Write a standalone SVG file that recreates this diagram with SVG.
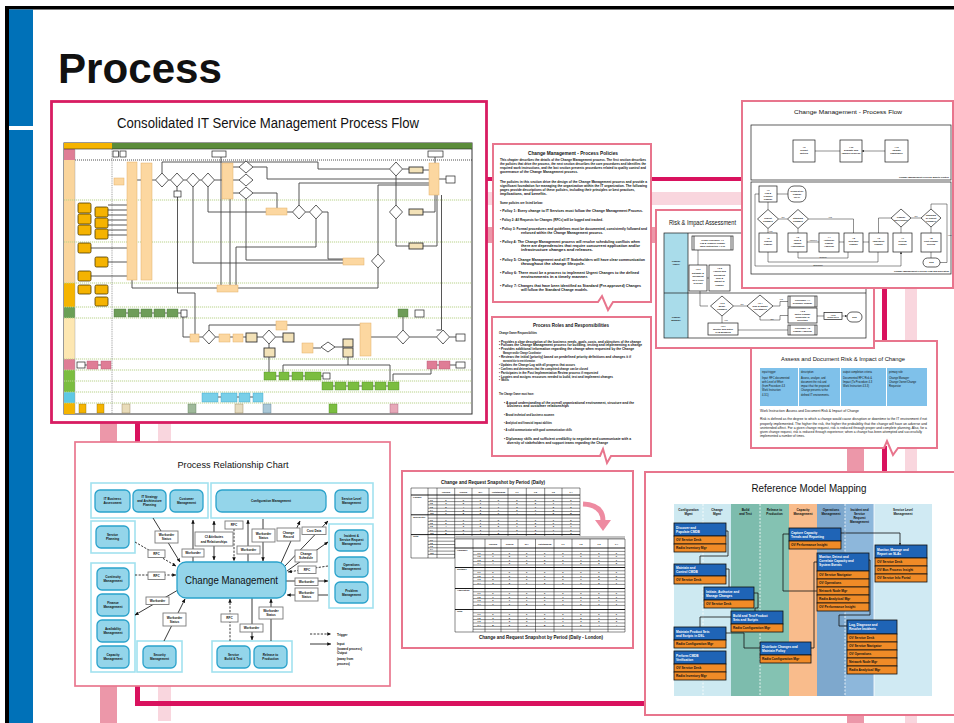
<svg xmlns="http://www.w3.org/2000/svg" width="954" height="723" viewBox="0 0 954 723">
<style>
text{font-family:"Liberation Sans",Arial,Helvetica,sans-serif;fill:#111}
.pb{fill:#fff;stroke:#e8758d;stroke-width:2}
.mid{text-anchor:middle}
.end{text-anchor:end}
.b{font-weight:bold}
.t2{font-size:2.3px}
.t25{font-size:2.6px}
.t3{font-size:3.1px}
.body{font-size:3.6px;font-weight:bold;fill:#000}
.k{fill:none;stroke:#1a1a1a;stroke-width:.7}
.kb{fill:#fff;stroke:#1a1a1a;stroke-width:.7}
.cl{fill:none;stroke:#444;stroke-width:.9}
.lo{fill:#fcd7a0;stroke:#e3b06a;stroke-width:.5}
.yb{fill:#f5b301;stroke:#4d3a00;stroke-width:.8}
.dm{fill:#fff;stroke:#333;stroke-width:.8}
.wb{fill:#fff;stroke:#222;stroke-width:.7}
.db{fill:#f3e2b8;stroke:#333;stroke-width:.9}
.gb{fill:#6e9d58;stroke:#4b7a3a;stroke-width:.4}
.lg{fill:#7bbd40;stroke:#4e8a22;stroke-width:.4}
.pk{fill:#df7d96;stroke:#b25670;stroke-width:.4}
.cy{fill:#79cfe9;stroke:#3aa3c8;stroke-width:.4}
.sep{stroke:#b9d38c;stroke-width:1;stroke-dasharray:1.2 .8}
.grp{fill:#fff;stroke:#a2e1ef;stroke-width:1.6}
.nd{fill:#94d5ea;stroke:#2aa2cb;stroke-width:1.3}
.lb{fill:#fff;stroke:#7a7a7a;stroke-width:.9}
.ar{fill:none;stroke:#222;stroke-width:.9;marker-end:url(#a)}
.da{fill:none;stroke:#222;stroke-width:.9;stroke-dasharray:2.2 1.4;marker-end:url(#a)}
.fa{fill:none;stroke:#222;stroke-width:.5;marker-end:url(#s)}
.hd{fill:#1f64b6;stroke:#111;stroke-width:.8}
.it{fill:#f08b27;stroke:#111;stroke-width:.8}
.hw{font-size:3.2px;font-weight:bold;fill:#fff}
.ik{font-size:3.2px;font-weight:bold;fill:#111}
.grid{fill:none;stroke:#111;stroke-width:.5}
.num{font-size:2.3px;font-weight:bold}
</style>
<defs>
<marker id="a" viewBox="0 0 8 8" refX="7.5" refY="4" markerUnits="userSpaceOnUse" markerWidth="4" markerHeight="4" orient="auto-start-reverse"><path d="M0,.5L8,4L0,7.5z" fill="#111"/></marker>
<marker id="s" viewBox="0 0 8 8" refX="7.5" refY="4" markerUnits="userSpaceOnUse" markerWidth="2.2" markerHeight="2.2" orient="auto"><path d="M0,.5L8,4L0,7.5z" fill="#111"/></marker>
</defs>

<rect width="954" height="723" fill="#fff"/>

<!-- slide frame and side bar -->
<g id="frame">
<rect x="5" y="6" width="949" height="3.5" fill="#000"/>
<rect x="5" y="6" width="4" height="717" fill="#000"/>
<rect x="9" y="9.5" width="24" height="713.5" fill="#0071b8"/>
<rect x="9" y="126" width="24" height="4" fill="#fff"/>
<text x="58" y="83" font-size="42" class="b" fill="#000" textLength="164" lengthAdjust="spacingAndGlyphs">Process</text>
</g>

<!-- decorative stripes running behind the panels -->
<g id="stripes">
<rect x="487" y="177" width="257" height="4" fill="#d9125e"/>
<rect x="487" y="192" width="257" height="13" fill="#f9d6de"/>
<rect x="487" y="227" width="170" height="16" fill="#ec97a9"/>
<rect x="882" y="286" width="5" height="56" fill="#d9125e"/>
<rect x="905" y="286" width="12" height="56" fill="#f9d6de"/>
<rect x="847" y="446" width="17" height="27" fill="#ec97a9"/>
<rect x="882" y="446" width="5" height="27" fill="#d9125e"/>
<rect x="905" y="446" width="12" height="27" fill="#f9d6de"/>
<rect x="847" y="714" width="17" height="9" fill="#ec97a9"/>
<rect x="905" y="714" width="12" height="9" fill="#f9d6de"/>
<rect x="100" y="421" width="17" height="22" fill="#ec97a9"/>
<rect x="135" y="421" width="5" height="22" fill="#d9125e"/>
<rect x="158" y="421" width="13" height="22" fill="#f9d6de"/>
<rect x="100" y="685" width="17" height="38" fill="#ec97a9"/>
<rect x="158" y="685" width="13" height="36" fill="#f9d6de"/>
<path d="M137.5,685V703.5H646" fill="none" stroke="#d9125e" stroke-width="5"/>
</g>

<!-- consolidated process flow panel -->
<g id="consolidated">
<rect x="51.5" y="101.5" width="435" height="321" fill="#fff" stroke="#d81c62" stroke-width="2.8"/>
<text x="268" y="128.3" font-size="14" class="mid" fill="#222" textLength="302" lengthAdjust="spacingAndGlyphs">Consolidated IT Service Management Process Flow</text>
<rect x="64" y="143" width="408" height="271" fill="#fff" stroke="#333" stroke-width="1"/>
<rect x="64" y="143" width="48" height="6" fill="#f5b400"/>
<rect x="112" y="143" width="360" height="6" fill="#5b8c3a"/>
<rect x="64" y="149" width="11" height="11" fill="#df7d96"/>
<rect x="64" y="160" width="11" height="123" fill="#fad59c"/>
<rect x="64" y="283" width="11" height="24" fill="#f5b400"/>
<rect x="64" y="307" width="11" height="11" fill="#6a9f56"/>
<rect x="64" y="318" width="11" height="41" fill="#fde7b2"/>
<rect x="64" y="359" width="11" height="11" fill="#df7d96"/>
<rect x="64" y="370" width="11" height="22" fill="#7bbd40"/>
<rect x="64" y="392" width="11" height="11" fill="#5ec8e5"/>
<rect x="64" y="403" width="11" height="11" fill="#f5b400"/>
<path d="M64,200H472M64,242H472M64,283H472M64,307H472M64,318H472M64,359H472M64,370H472M64,381H472M64,392H472M64,403H472" class="sep"/>
<path d="M75,160H472" stroke="#222" stroke-width=".8" stroke-dasharray="1 1"/>
<path d="M64,149H472" stroke="#222" stroke-width=".6"/>
<path d="M112,149V414" stroke="#888" stroke-width=".8" stroke-dasharray="1 .8"/>
<path d="M75,149V414" stroke="#999" stroke-width=".4"/>
<path d="M108,205H127M108,210H127M108,215H127M108,220H127M108,225H127M108,230H127M108,235H127M91,248H127M108,262H127M91,276H127M132,280V288H217M238,288H378V268M137,180H141M152,180H155.5M168.5,180H170.5M183.5,180H186.5M199.5,180H201.5M214.5,180H222M162,173V162H318V169H389.5M177,187V191M177.5,197V293H195V334M193,187V263H343M208,187V212H266M221,157V285M233,180H239M233,167H239M233,193H239M246,199V260H343M230,199V285M236,285V247H316V219M253,167H267V179H429M253,193H277V208M287,212H292.5M305.5,212H309.5M299,205V183H429M322.5,212H328V259H343M378,254V185H429M402.5,169H409M423,170H429M396,176V205M396,219V246H409M423,212H435V195M423,246H437V195M439,179H446M435,163V157M441.5,195V330H436.5M126,313H181M183,317V337H190M199,337H202.5M215.5,337H219M230,337H233M243,337H246M257,337H262.5M275.5,337H283M209,330V325H360M269,344V348M269,357V373M371,337H396.5M409.5,337H436.5M449.5,337H456M403,330V317M313,348H321M335,347H343M348,357V365M283,373V365H390V381M431,369V374H393V381M85,365H87M98,365H101M437,365H439M450,365H456M276,376H279M289,376H292M303,376H305M321,376H323M333,386H335M346,386H348M359,386H362M373,386H375M386,386H388M218,397H221M237,397H239M250,397H253" class="cl"/>
<rect x="127" y="162" width="10" height="118" class="lo"/>
<rect x="141" y="163" width="11" height="117" class="lo"/>
<rect x="222" y="163" width="11" height="36" class="lo"/>
<rect x="429" y="163" width="10" height="32" class="lo"/>
<rect x="360" y="323" width="11" height="33" class="lo"/>
<rect x="114" y="178" width="10" height="7" class="lo"/>
<rect x="266" y="208" width="21" height="7" class="lo"/>
<rect x="343" y="258" width="21" height="7" class="lo"/>
<rect x="217" y="285" width="21" height="7" class="lo"/>
<rect x="409" y="167" width="14" height="6" class="db"/>
<rect x="409" y="209" width="14" height="6" class="db"/>
<rect x="409" y="243" width="14" height="6" class="db"/>
<rect x="190" y="334" width="9" height="8" class="lo"/>
<rect x="219" y="334" width="11" height="8" class="lo"/>
<rect x="233" y="334" width="10" height="8" class="lo"/>
<rect x="276" y="321" width="11" height="9" class="lo"/>
<rect x="302" y="343" width="11" height="10" class="lo"/>
<rect x="246" y="333" width="11" height="9" class="db"/>
<rect x="283" y="333" width="11" height="9" class="db"/>
<rect x="264" y="348" width="11" height="9" class="db"/>
<rect x="343" y="339" width="10" height="8" class="db"/>
<rect x="343" y="348" width="10" height="9" class="db"/>
<rect x="78" y="203" width="13" height="10" rx="1.5" class="yb"/>
<rect x="78" y="214" width="13" height="10" rx="1.5" class="yb"/>
<rect x="78" y="225" width="13" height="10" rx="1.5" class="yb"/>
<rect x="95" y="207" width="13" height="10" rx="1.5" class="yb"/>
<rect x="95" y="218" width="13" height="10" rx="1.5" class="yb"/>
<rect x="95" y="229" width="13" height="10" rx="1.5" class="yb"/>
<rect x="78" y="243" width="13" height="10" rx="1.5" class="yb"/>
<rect x="95" y="257" width="13" height="10" rx="1.5" class="yb"/>
<rect x="78" y="271" width="13" height="10" rx="1.5" class="yb"/>
<rect x="78" y="285" width="13" height="9" rx="1.5" class="yb"/>
<rect x="95" y="285" width="13" height="9" rx="1.5" class="yb"/>
<rect x="95" y="297" width="13" height="9" rx="1.5" class="yb"/>
<polygon points="162,173 168.5,180 162,187 155.5,180" class="dm"/>
<polygon points="177,173 183.5,180 177,187 170.5,180" class="dm"/>
<polygon points="193,173 199.5,180 193,187 186.5,180" class="dm"/>
<polygon points="208,173 214.5,180 208,187 201.5,180" class="dm"/>
<polygon points="246,161 253,167 246,173 239,167" class="dm"/>
<polygon points="246,174 253,180 246,186 239,180" class="dm"/>
<polygon points="246,187 253,193 246,199 239,193" class="dm"/>
<polygon points="396,162 402.5,169 396,176 389.5,169" class="dm"/>
<polygon points="299,205 305.5,212 299,219 292.5,212" class="dm"/>
<polygon points="316,205 322.5,212 316,219 309.5,212" class="dm"/>
<polygon points="396,205 402.5,212 396,219 389.5,212" class="dm"/>
<polygon points="378,254 384.5,261 378,268 371.5,261" class="dm"/>
<polygon points="209,330 215.5,337 209,344 202.5,337" class="dm"/>
<polygon points="269,330 275.5,337 269,344 262.5,337" class="dm"/>
<polygon points="328,342 335,347 328,352 321,347" class="dm"/>
<polygon points="403,330 409.5,337 403,344 396.5,337" class="dm"/>
<polygon points="443,330 449.5,337 443,344 436.5,337" class="dm"/>
<rect x="113" y="151" width="5.5" height="6" class="wb"/>
<rect x="120" y="151" width="6" height="6" class="wb"/>
<rect x="212" y="151" width="14" height="6" class="wb"/>
<rect x="428" y="151" width="15" height="6" class="wb"/>
<rect x="174" y="191" width="7" height="6" class="wb"/>
<rect x="181" y="310" width="6" height="7" class="wb"/>
<rect x="415" y="310" width="9" height="7" class="wb"/>
<rect x="446" y="176" width="9" height="7" class="wb"/>
<rect x="456" y="334" width="9" height="7" class="wb"/>
<rect x="456" y="362" width="9" height="6" class="wb"/>
<rect x="77" y="362" width="8" height="6" class="wb"/>
<rect x="323" y="373" width="7" height="6" class="wb"/>
<rect x="114" y="309" width="12" height="8" class="gb"/>
<rect x="128" y="309" width="11" height="8" class="gb"/>
<rect x="141" y="309" width="11" height="8" class="gb"/>
<rect x="154" y="309" width="11" height="8" class="gb"/>
<rect x="167" y="309" width="11" height="8" class="gb"/>
<rect x="398" y="309" width="10" height="8" class="gb"/>
<rect x="87" y="361" width="11" height="8" class="pk"/>
<rect x="101" y="361" width="10" height="8" class="pk"/>
<rect x="427" y="361" width="10" height="8" class="pk"/>
<rect x="439" y="361" width="11" height="8" class="pk"/>
<rect x="264" y="372" width="12" height="8" class="lg"/>
<rect x="279" y="372" width="10" height="8" class="lg"/>
<rect x="292" y="372" width="11" height="8" class="lg"/>
<rect x="305" y="372" width="16" height="8" class="lg"/>
<rect x="322" y="382" width="11" height="8" class="lg"/>
<rect x="335" y="382" width="11" height="8" class="lg"/>
<rect x="348" y="382" width="11" height="8" class="lg"/>
<rect x="362" y="382" width="11" height="8" class="lg"/>
<rect x="375" y="382" width="11" height="8" class="lg"/>
<rect x="388" y="382" width="11" height="8" class="lg"/>
<rect x="202" y="393" width="16" height="9" class="cy"/>
<rect x="221" y="393" width="16" height="9" class="cy"/>
<rect x="239" y="393" width="11" height="9" class="cy"/>
<rect x="253" y="393" width="10" height="9" class="cy"/>
<rect x="79" y="404" width="7" height="9" fill="#f5b400" stroke="#8a6a00" stroke-width=".4"/>
<rect x="97" y="404" width="7" height="9" fill="#f5b400" stroke="#8a6a00" stroke-width=".4"/>
<rect x="122" y="404" width="8" height="9" fill="#e9dcb9" stroke="#8a7a50" stroke-width=".4"/>
<rect x="188" y="404" width="8" height="9" fill="#9fb99a" stroke="#5b7a56" stroke-width=".4"/>
<rect x="235" y="404" width="8" height="9" fill="#e6dcc0" stroke="#8a7a50" stroke-width=".4"/>
<rect x="263" y="404" width="8" height="9" fill="#a9c8d8" stroke="#5b7a8a" stroke-width=".4"/>
<rect x="329" y="404" width="8" height="9" fill="#7bbd40" stroke="#4e8a22" stroke-width=".4"/>
<rect x="390" y="404" width="8" height="9" fill="#e7a8b8" stroke="#a0607a" stroke-width=".4"/>
</g>

<!-- policies callout -->
<g id="policies">
<path d="M493,144H651V302H613L608,310L602,296L598,302H493Z" class="pb"/>
<text x="573" y="154.7" font-size="5.5" class="mid b" textLength="90" lengthAdjust="spacingAndGlyphs">Change Management - Process Policies</text>
<g class="body">
<text x="500" y="161" textLength="146" lengthAdjust="spacingAndGlyphs">This chapter describes the details of the Change Management process. The first section describes</text>
<text x="500" y="165" textLength="146" lengthAdjust="spacingAndGlyphs">the policies that drive the process, the next section describes the core procedures and identifies the</text>
<text x="500" y="169" textLength="146" lengthAdjust="spacingAndGlyphs">required work instructions, and the last section presents procedures related to quality control and</text>
<text x="500" y="173" textLength="78" lengthAdjust="spacingAndGlyphs">governance of the Change Management process.</text>
<text x="500" y="182.5" textLength="147" lengthAdjust="spacingAndGlyphs">The policies in this section drive the design of the Change Management process and provide a</text>
<text x="500" y="186.5" textLength="147" lengthAdjust="spacingAndGlyphs">significant foundation for managing the organization within the IT organization. The following</text>
<text x="500" y="190.5" textLength="135" lengthAdjust="spacingAndGlyphs">pages provide descriptions of these policies, including their principles or best practices,</text>
<text x="500" y="194.5" textLength="47" lengthAdjust="spacingAndGlyphs">implications, and benefits.</text>
<text x="500" y="204.3" textLength="43" lengthAdjust="spacingAndGlyphs">Some policies are listed below:</text>
<text x="500" y="212.3" textLength="143" lengthAdjust="spacingAndGlyphs">• Policy 1: Every change to IT Services must follow the Change Management Process.</text>
<text x="500" y="221.2" textLength="103" lengthAdjust="spacingAndGlyphs">• Policy 2: All Requests for Changes (RFCs) will be logged and tracked.</text>
<text x="500" y="229.8" textLength="147" lengthAdjust="spacingAndGlyphs">• Policy 3: Formal procedures and guidelines must be documented, consistently followed and</text>
<text x="521" y="233.8" textLength="82" lengthAdjust="spacingAndGlyphs">enforced within the Change Management process.</text>
<text x="500" y="243.2" textLength="140" lengthAdjust="spacingAndGlyphs">• Policy 4: The Change Management process will resolve scheduling conflicts when</text>
<text x="521" y="247.2" textLength="119" lengthAdjust="spacingAndGlyphs">there are dependencies that require concurrent application and/or</text>
<text x="521" y="251.2" textLength="72" lengthAdjust="spacingAndGlyphs">infrastructure changes and releases.</text>
<text x="500" y="261.2" textLength="145" lengthAdjust="spacingAndGlyphs">• Policy 5: Change Management and all IT Stakeholders will have clear communication</text>
<text x="521" y="265.4" textLength="64" lengthAdjust="spacingAndGlyphs">throughout the change lifecycle.</text>
<text x="500" y="273.8" textLength="139" lengthAdjust="spacingAndGlyphs">• Policy 6: There must be a process to implement Urgent Changes to the defined</text>
<text x="521" y="277.8" textLength="67" lengthAdjust="spacingAndGlyphs">environments in a timely manner.</text>
<text x="500" y="287.2" textLength="141" lengthAdjust="spacingAndGlyphs">• Policy 7: Changes that have been identified as Standard (Pre-approved) Changes</text>
<text x="521" y="291.2" textLength="67" lengthAdjust="spacingAndGlyphs">will follow the Standard Change models.</text>
</g>
</g>

<!-- roles callout -->
<g id="roles">
<path d="M492,317H651V456H611L607,463L603,449L600,456H492Z" class="pb"/>
<text x="571" y="327.3" font-size="5.5" class="mid b" textLength="76" lengthAdjust="spacingAndGlyphs">Process Roles and Responsibilities</text>
<g class="body" font-size="3.3">
<text x="499" y="334" textLength="38" lengthAdjust="spacingAndGlyphs">Change Owner Responsibilities</text>
<text x="499" y="342.5" textLength="142" lengthAdjust="spacingAndGlyphs">• Provides a clear description of the business needs, goals, costs, and objectives of the change</text>
<text x="499" y="346.2" textLength="143" lengthAdjust="spacingAndGlyphs">• Follows the Change Management process for building, testing and implementing a change</text>
<text x="499" y="349.9" textLength="135" lengthAdjust="spacingAndGlyphs">• Provides additional information regarding the change when requested by the Change</text>
<text x="503" y="354" textLength="38" lengthAdjust="spacingAndGlyphs">Manager and/or Change Coordinator</text>
<text x="499" y="358" textLength="132" lengthAdjust="spacingAndGlyphs">• Reviews the initial (priority) based on predefined priority definitions and changes it if</text>
<text x="503" y="361.7" textLength="32" lengthAdjust="spacingAndGlyphs">warranted due to new information</text>
<text x="499" y="366" textLength="76" lengthAdjust="spacingAndGlyphs">• Updates the Change Log with all progress that occurs</text>
<text x="499" y="369.7" textLength="89" lengthAdjust="spacingAndGlyphs">• Confirms and determines that the completed change can be closed</text>
<text x="499" y="373.7" textLength="99" lengthAdjust="spacingAndGlyphs">• Participates in the Post Implementation Review process if requested</text>
<text x="499" y="377.5" textLength="114" lengthAdjust="spacingAndGlyphs">• Locates and assigns resources needed to build, test and implement changes</text>
<text x="499" y="381.3" textLength="10" lengthAdjust="spacingAndGlyphs">• Skills</text>
<text x="499" y="395.3" textLength="35" lengthAdjust="spacingAndGlyphs">The Change Owner must have:</text>
<text x="504" y="403.6" textLength="130" lengthAdjust="spacingAndGlyphs">• A good understanding of the overall organizational environment, structure and the</text>
<text x="507" y="407.2" textLength="62" lengthAdjust="spacingAndGlyphs">business and customer relationships</text>
<text x="504" y="416" textLength="50" lengthAdjust="spacingAndGlyphs">• Broad technical and business acumen</text>
<text x="504" y="423.6" textLength="48" lengthAdjust="spacingAndGlyphs">• Analytical and financial impact abilities</text>
<text x="504" y="431.3" textLength="68" lengthAdjust="spacingAndGlyphs">• A solid communicator with good communication skills</text>
<text x="504" y="440.3" textLength="127" lengthAdjust="spacingAndGlyphs">• Diplomacy skills and sufficient credibility to negotiate and communicate with a</text>
<text x="507" y="444.3" textLength="101" lengthAdjust="spacingAndGlyphs">diversity of stakeholders and support teams regarding the Change</text>
</g>
</g>

<!-- assess and document callout -->
<g id="assess">
<path d="M751,341H937V448H898L893,455L887,441L884,448H751Z" class="pb"/>
<text x="843" y="360.7" font-size="6" class="mid" fill="#222" textLength="124" lengthAdjust="spacingAndGlyphs">Assess and Document Risk &amp; Impact of Change</text>
<rect x="760" y="368" width="38" height="38" fill="#7fc1ea"/>
<rect x="799" y="368" width="41" height="38" fill="#7fc1ea"/>
<rect x="841" y="368" width="45" height="38" fill="#7fc1ea"/>
<rect x="887" y="368" width="40" height="38" fill="#7fc1ea"/>
<g class="t25">
<text x="762" y="373">input trigger</text><text x="801" y="373">description</text><text x="843" y="373">output completion criteria</text><text x="889" y="373">primary role</text>
<text x="762" y="378.5">Input: RFC documented</text><text x="762" y="382.8">with Level of Effort</text><text x="762" y="387.1">(from Procedure 4.3</text><text x="762" y="391.4">Work Instruction</text><text x="762" y="395.7">4.3.1)</text>
<text x="801" y="378.5">Assess, analyze, and</text><text x="801" y="382.8">document the risk and</text><text x="801" y="387.1">impact that the proposed</text><text x="801" y="391.4">Change presents to the</text><text x="801" y="395.7">defined IT environments.</text>
<text x="843" y="378.5">Documented RFC Risk &amp;</text><text x="843" y="382.8">Impact (To Procedure 4.3</text><text x="843" y="387.1">Work Instruction 4.3.3)</text>
<text x="889" y="378.5">Change Manager</text><text x="889" y="382.8">Change Owner/Change</text><text x="889" y="387.1">Requestor</text>
</g>
<g class="t25">
<text x="760" y="412" textLength="99" lengthAdjust="spacingAndGlyphs">Work Instruction: Assess and Document Risk &amp; Impact of Change</text>
<text x="760" y="420.2" textLength="167" lengthAdjust="spacingAndGlyphs">Risk is defined as the degree to which a change would cause disruption or downtime to the IT environment if not</text>
<text x="760" y="424.5" textLength="167" lengthAdjust="spacingAndGlyphs">properly implemented. The higher the risk, the higher the probability that the change will have an adverse and</text>
<text x="760" y="428.8" textLength="167" lengthAdjust="spacingAndGlyphs">unintended affect. For a given change request, risk is reduced through proper and complete planning. Also, for a</text>
<text x="760" y="433.1" textLength="162" lengthAdjust="spacingAndGlyphs">given change request, risk is reduced through experience; when a change has been attempted and successfully</text>
<text x="760" y="437.4" textLength="45" lengthAdjust="spacingAndGlyphs">implemented a number of times.</text>
</g>
</g>

<!-- risk and impact assessment -->
<g id="risk">
<rect x="656" y="210" width="218" height="138" class="pb"/>
<text x="669" y="225" font-size="6.5" fill="#222" textLength="67" lengthAdjust="spacingAndGlyphs">Risk &amp; Impact Assessment</text>
<rect x="664" y="233" width="24" height="105" fill="#a9dcea"/>
<rect x="664" y="233" width="202" height="105" class="k" stroke-width=".9"/>
<path d="M664,293H866M688,233V338" class="k"/>
<text x="676" y="262" class="t2 mid b">Change</text><text x="676" y="265" class="t2 mid b">Owner</text>
<text x="676" y="318" class="t2 mid b">Change</text><text x="676" y="321" class="t2 mid b">Manager</text>
<path d="M698,250V265M707,278H709M700,291V306H708M733.5,306H747M773,306H780V301.5H788M760,317V320H780V315.5H788M722,316V323M738,330H788M817,316H824M842,316H847" class="fa"/>
<rect x="692" y="236" width="41" height="14" class="kb"/>
<path d="M694,236V250M731,236V250" class="k"/>
<text x="712.5" y="240.5" class="t2 mid b">Cross Procedure 4.1</text>
<text x="712.5" y="243.5" class="t2 mid b">Log &amp; Classify Change</text>
<text x="712.5" y="246.5" class="t2 mid b">Work Instruction 4.1.10</text>
<rect x="689" y="265" width="18" height="26" class="kb"/>
<g class="t2 mid b"><text x="698" y="270">4.3.1</text><text x="698" y="273.5">Estimate &amp;</text><text x="698" y="277">Document</text><text x="698" y="280.5">RFC Level</text><text x="698" y="284">of Effort</text></g>
<rect x="709" y="265" width="21" height="26" class="kb"/>
<g class="t2 mid b"><text x="719.5" y="269">4.3.2</text><text x="719.5" y="272.3">Assess and</text><text x="719.5" y="275.6">Document</text><text x="719.5" y="278.9">Risk &amp;</text><text x="719.5" y="282.2">Impact of</text><text x="719.5" y="285.5">Change</text></g>
<polygon points="722,296 733.5,306 722,316 710.5,306" class="kb"/>
<g class="t2 mid b"><text x="722" y="304">4.3.3</text><text x="722" y="307">Minor</text><text x="722" y="310">Change?</text></g>
<polygon points="760,295 773,306 760,317 747,306" class="kb"/>
<g class="t2 mid b"><text x="760" y="304">4.3.4</text><text x="760" y="307">Risk &amp; Impact</text><text x="760" y="310">Acceptable?</text></g>
<text x="742" y="305" class="t2 mid">No</text><text x="781" y="300" class="t2 mid">Yes</text><text x="772" y="319.5" class="t2 mid">No</text><text x="724" y="321" class="t2">Yes</text>
<rect x="788" y="296" width="29" height="11" class="kb"/>
<path d="M790,296V307M815,296V307" class="k"/>
<g class="t2 mid b"><text x="802.5" y="300.8">Procedure 4.4</text><text x="802.5" y="303.8">Schedule Change</text></g>
<rect x="788" y="308" width="29" height="15" class="kb"/>
<g class="t2 mid b"><text x="802.5" y="311.5">4.3.5</text><text x="802.5" y="314.5">Notify Change</text><text x="802.5" y="317.5">Requestor of</text><text x="802.5" y="320.5">Rejection</text></g>
<rect x="824" y="312.5" width="18" height="7" class="kb"/>
<g class="t2 mid b"><text x="833" y="315.5">4.3.6</text><text x="833" y="318.3">Close RFC</text></g>
<rect x="847" y="312" width="15" height="10" rx="5" class="kb"/>
<text x="854.5" y="317.8" class="t2 mid b">End</text>
<rect x="708" y="323" width="30" height="12" class="kb"/>
<g class="t2 mid b"><text x="723" y="327">4.3.7</text><text x="723" y="330">Identify and Notify</text><text x="723" y="333">CAB Members</text></g>
<rect x="788" y="325" width="29" height="10" class="kb"/>
<path d="M790,325V335M815,325V335" class="k"/>
<g class="t2 mid b"><text x="802.5" y="329.3">Procedure 4.5</text><text x="802.5" y="332.3">Change Approval</text></g>
</g>

<!-- change management process flow -->
<g id="cm-flow">
<rect x="742" y="101" width="211" height="187" class="pb"/>
<text x="848" y="114" font-size="6" class="mid" fill="#222" textLength="108" lengthAdjust="spacingAndGlyphs">Change Management - Process Flow</text>
<rect x="751" y="125" width="200" height="55" class="kb" stroke-width=".9"/>
<path d="M815,151H840M885,151H862" class="fa"/>
<rect x="793" y="140" width="22" height="22" class="kb"/>
<rect x="840" y="140" width="22" height="22" class="kb"/>
<rect x="885" y="140" width="23" height="22" class="kb"/>
<g class="t2 mid b">
<text x="804" y="148">4.9</text><text x="804" y="151">Report</text><text x="804" y="154">metrics</text>
<text x="851" y="148">4.10</text><text x="851" y="151">Evaluate and</text><text x="851" y="154">improve process</text>
<text x="896.5" y="148">4.11</text><text x="896.5" y="151">Validate</text><text x="896.5" y="154">compliance</text>
</g>
<text x="949" y="178" class="t2 end b">Change Management Process Quality Control</text>
<rect x="751" y="182" width="200" height="92" class="kb" stroke-width=".9"/>
<path d="M788,194H777M768,202V209.5M778.5,219H787.5M768,228.5V233M798,228.5V233M808.5,219H853.5V233M807,242H819M839,242H844M863,242H869M878.5,233V218H891M901,227V233M911,218H921M931,227V233M931,209V204H947V262.5H940M931,252V258M798,252V258H848V252M768,252V262H878V252M759,194H755V266H901V252" class="fa"/>
<rect x="759" y="186" width="18" height="16" class="kb"/>
<g class="t2 mid b"><text x="768" y="190.5">4.1</text><text x="768" y="193.5">Log &amp;</text><text x="768" y="196.5">Classify</text><text x="768" y="199.5">Change</text></g>
<rect x="788" y="186" width="18" height="16" rx="6" class="kb"/>
<g class="t2 mid b"><text x="797" y="192">Request for</text><text x="797" y="195">Change</text><text x="797" y="198">(RFC)</text></g>
<polygon points="768,209.5 778.5,219 768,228.5 757.5,219" class="kb"/>
<g class="t2 mid b"><text x="768" y="218.5">Urgent</text><text x="768" y="221.5">Change?</text></g>
<polygon points="798,209.5 808.5,219 798,228.5 787.5,219" class="kb"/>
<g class="t2 mid b"><text x="798" y="218.5">Standard</text><text x="798" y="221.5">Change?</text></g>
<rect x="759" y="233" width="18" height="19" class="kb"/>
<g class="t2 mid b"><text x="768" y="239">4.2</text><text x="768" y="242">Urgent</text><text x="768" y="245">Change</text></g>
<rect x="788" y="233" width="19" height="19" class="kb"/>
<g class="t2 mid b"><text x="797.5" y="238">4.3</text><text x="797.5" y="241">Risk &amp;</text><text x="797.5" y="244">Impact</text><text x="797.5" y="247">Assessment</text></g>
<rect x="819" y="233" width="20" height="19" class="kb"/>
<g class="t2 mid b"><text x="829" y="238">4.4</text><text x="829" y="241">Authorize</text><text x="829" y="244">Change</text><text x="829" y="247">Approval</text></g>
<rect x="844" y="233" width="19" height="19" class="kb"/>
<g class="t2 mid b"><text x="853.5" y="239">4.5</text><text x="853.5" y="242">Schedule</text><text x="853.5" y="245">Change</text></g>
<rect x="869" y="233" width="19" height="19" class="kb"/>
<g class="t2 mid b"><text x="878.5" y="239">4.6</text><text x="878.5" y="242">Implement</text><text x="878.5" y="245">Change</text></g>
<rect x="893" y="233" width="19" height="19" class="kb"/>
<g class="t2 mid b"><text x="902.5" y="239">4.7</text><text x="902.5" y="242">Review</text><text x="902.5" y="245">Change</text></g>
<rect x="921" y="233" width="20" height="19" class="kb"/>
<g class="t2 mid b"><text x="931" y="239">4.8</text><text x="931" y="242">Post Change</text><text x="931" y="245">Review</text></g>
<polygon points="901,209 911,218 901,227 891,218" class="kb"/>
<g class="t2 mid b"><text x="901" y="217.5">Change</text><text x="901" y="220.5">Successful?</text></g>
<polygon points="931,209 941,218 931,227 921,218" class="kb"/>
<g class="t2 mid b"><text x="931" y="216">Standard</text><text x="931" y="219">or Urgent</text><text x="931" y="222">Change?</text></g>
<rect x="923" y="258" width="17" height="9" rx="4.5" class="kb"/>
<text x="931.5" y="263.3" class="t2 mid b">End</text>
<g class="t2 mid">
<text x="783" y="217.8">No</text><text x="770.5" y="232">Yes</text><text x="830" y="218">Yes</text><text x="813" y="241.2">Approve</text>
<text x="916" y="217.3">No</text><text x="949.5" y="236">Yes</text><text x="823" y="257.5">Return</text><text x="818" y="265.5">Standard</text>
</g>
<text x="949" y="272.3" class="t2 end b">Change Management Process Flow and Exception</text>
</g>

<!-- process relationship chart -->
<g id="relationship">
<rect x="75" y="442" width="315" height="244" fill="#fff" stroke="#e9778f" stroke-width="1.7"/>
<text x="233" y="468.3" font-size="9.5" class="mid" fill="#222" textLength="111" lengthAdjust="spacingAndGlyphs">Process Relationship Chart</text>
<rect x="91" y="483" width="117" height="35" class="grp"/>
<rect x="211" y="483" width="162" height="35" class="grp"/>
<rect x="91" y="521" width="44" height="32" class="grp"/>
<rect x="91" y="563" width="44" height="109" class="grp"/>
<rect x="329" y="524" width="44" height="84" class="grp"/>
<rect x="137" y="641" width="45" height="31" class="grp"/>
<rect x="212" y="641" width="80" height="31" class="grp"/>
<path d="M153,518L180,562" class="ar"/>
<path d="M193,562V520" class="ar"/>
<path d="M214,560V521" class="ar" style="marker-start:url(#a)"/>
<path d="M234,529V561" class="da"/>
<path d="M248,562V520" class="ar"/>
<path d="M263,519V561" class="ar"/>
<path d="M281,563L300,521" class="ar"/>
<path d="M285,566L328,521" class="ar"/>
<path d="M287,571L328,542" class="ar"/>
<path d="M328,566L288,572" class="da"/>
<path d="M135,542L176,566" class="da"/>
<path d="M135,575H176" class="da"/>
<path d="M286,581H328" class="ar"/>
<path d="M328,595H287" class="ar"/>
<path d="M178,590L135,615" class="ar"/>
<path d="M164,641L185,599" class="ar"/>
<path d="M230,641V599" class="da"/>
<path d="M252,598V640" class="ar"/>
<path d="M271,641V599" class="ar"/>
<rect x="95" y="490" width="35" height="22" rx="5" class="nd"/>
<rect x="133" y="490" width="33" height="22" rx="5" class="nd"/>
<rect x="170" y="490" width="33" height="22" rx="5" class="nd"/>
<rect x="216" y="490" width="110" height="22" rx="6" class="nd"/>
<rect x="335" y="490" width="33" height="22" rx="5" class="nd"/>
<rect x="96" y="526" width="33" height="22" rx="5" class="nd"/>
<rect x="97" y="568" width="32" height="22" rx="5" class="nd"/>
<rect x="97" y="594" width="32" height="22" rx="5" class="nd"/>
<rect x="97" y="620" width="32" height="22" rx="5" class="nd"/>
<rect x="97" y="646" width="32" height="22" rx="5" class="nd"/>
<rect x="335" y="530" width="33" height="21" rx="5" class="nd"/>
<rect x="335" y="557" width="33" height="20" rx="5" class="nd"/>
<rect x="335" y="582" width="33" height="21" rx="5" class="nd"/>
<rect x="143" y="646" width="33" height="22" rx="5" class="nd"/>
<rect x="217" y="646" width="33" height="22" rx="5" class="nd"/>
<rect x="254" y="646" width="33" height="22" rx="5" class="nd"/>
<rect x="177" y="562" width="109" height="36" rx="9" class="nd"/>
<text x="231.5" y="583.5" font-size="10.5" class="mid" fill="#1d2b3a" textLength="93" lengthAdjust="spacingAndGlyphs">Change Management</text>
<g class="t3 mid b">
<text x="112.5" y="500">IT Business</text><text x="112.5" y="504">Assessment</text>
<text x="149.5" y="498">IT Strategy</text><text x="149.5" y="502">and Architecture</text><text x="149.5" y="506">Planning</text>
<text x="186.5" y="500">Customer</text><text x="186.5" y="504">Management</text>
<text x="271" y="502">Configuration Management</text>
<text x="351.5" y="500">Service Level</text><text x="351.5" y="504">Management</text>
<text x="112.5" y="536">Service</text><text x="112.5" y="540">Planning</text>
<text x="113" y="578">Continuity</text><text x="113" y="582">Management</text>
<text x="113" y="604">Finance</text><text x="113" y="608">Management</text>
<text x="113" y="630">Availability</text><text x="113" y="634">Management</text>
<text x="113" y="656">Capacity</text><text x="113" y="660">Management</text>
<text x="351.5" y="537">Incident &amp;</text><text x="351.5" y="541">Service Request</text><text x="351.5" y="545">Management</text>
<text x="351.5" y="566">Operations</text><text x="351.5" y="570">Management</text>
<text x="351.5" y="591.5">Problem</text><text x="351.5" y="595.5">Management</text>
<text x="159.5" y="656">Security</text><text x="159.5" y="660">Management</text>
<text x="233.5" y="656">Service</text><text x="233.5" y="660">Build &amp; Test</text>
<text x="270.5" y="656">Release to</text><text x="270.5" y="660">Production</text>
</g>
<rect x="155" y="531" width="23" height="12" class="lb"/>
<rect x="182" y="549" width="22" height="8" class="lb"/>
<rect x="195" y="532" width="38" height="14" class="lb"/>
<rect x="225" y="521" width="18" height="8" class="lb"/>
<rect x="237" y="546" width="23" height="8" class="lb"/>
<rect x="252" y="529" width="23" height="13" class="lb"/>
<rect x="277" y="528" width="23" height="13" class="lb"/>
<rect x="302" y="527" width="24" height="7.5" class="lb"/>
<rect x="295" y="550" width="22" height="12" class="lb"/>
<rect x="298" y="566" width="18" height="7.5" class="lb"/>
<rect x="295" y="578" width="23" height="7.5" class="lb"/>
<rect x="295" y="588" width="23" height="13" class="lb"/>
<rect x="148" y="550" width="17" height="7.5" class="lb"/>
<rect x="148" y="572" width="17" height="7.5" class="lb"/>
<rect x="146" y="597" width="23" height="7.5" class="lb"/>
<rect x="163" y="613" width="23" height="13" class="lb"/>
<rect x="221" y="614" width="17" height="8" class="lb"/>
<rect x="240" y="624" width="23" height="8" class="lb"/>
<rect x="259" y="607" width="24" height="12" class="lb"/>
<g class="t3 mid b">
<text x="166.5" y="536">Workorder</text><text x="166.5" y="540">Status</text>
<text x="193" y="554.3">Workorder</text>
<text x="214" y="538">CI Attributes</text><text x="214" y="542.5">and Relationships</text>
<text x="234" y="526.3">RFC</text>
<text x="248.5" y="551.3">Workorder</text>
<text x="263.5" y="534.5">Workorder</text><text x="263.5" y="538.5">Status</text>
<text x="288.5" y="533.5">Change</text><text x="288.5" y="537.5">Record</text>
<text x="314" y="532">Cost Data</text>
<text x="306" y="555">Change</text><text x="306" y="559">Schedule</text>
<text x="307" y="571">RFC</text>
<text x="306.5" y="583">Workorder</text>
<text x="306.5" y="593.5">Workorder</text><text x="306.5" y="597.5">Status</text>
<text x="156.5" y="555">RFC</text>
<text x="156.5" y="577">RFC</text>
<text x="157.5" y="602">Workorder</text>
<text x="174.5" y="618.5">Workorder</text><text x="174.5" y="622.5">Status</text>
<text x="229.5" y="619.3">RFC</text>
<text x="251.5" y="629.3">Workorder</text>
<text x="271" y="612">Workorder</text><text x="271" y="616">Status</text>
</g>
<path d="M310,634H331" class="da"/>
<path d="M310,644H331" class="ar"/>
<g class="t3 b">
<text x="337" y="635.5">Trigger</text>
<text x="337" y="645">Input</text><text x="337" y="649.5">(toward process)</text><text x="337" y="654">Output</text><text x="337" y="659.5">(away from</text><text x="337" y="664.5">process)</text>
</g>
</g>

<!-- change and request snapshot tables -->
<g id="snapshot">
<rect x="402" y="471" width="231" height="177" class="pb"/>
<text x="493" y="484" font-size="5.5" class="mid b" fill="#222" textLength="104" lengthAdjust="spacingAndGlyphs">Change and Request Snapshot by Period (Daily)</text>
<rect x="411" y="488" width="169" height="70" fill="#fff"/>
<path d="M411,488V558M428,488V558M437,488V558M454.7,488V558M472,488V558M489,488V558M508,488V558M526.3,488V558M544.7,488V558M562,488V558M580,488V558M411,488H580M411,558H580M428,498.3H580M428,501.6H580M428,504.9H580M428,508.2H580M428,511.5H580M428,518.1H580M428,521.4H580M428,524.7H580M428,528H580M428,531.3H580M428,537.9H580M428,541.2H580M428,544.5H580M428,547.8H580M428,551.1H580M428,554.4H580" class="grid"/>
<path d="M411,495H580M411,514.8H580M411,534.6H580" stroke="#000" stroke-width=".9"/>
<g class="num mid">
<text x="446" y="492.5">Opened</text><text x="463.4" y="492.5">Closed</text><text x="480.5" y="492.5">N/A</text><text x="498.5" y="492.5">Outstanding</text><text x="517" y="492.5">P1</text><text x="535.5" y="492.5">P2</text><text x="553.4" y="492.5">P3</text><text x="571" y="492.5">P4</text>
</g>
<g class="num">
<text x="413" y="497.7">London</text><text x="413" y="517.5">Winchester</text><text x="413" y="537.3">Total</text>
<text x="430" y="500.9">P1</text><text x="430" y="504.2">P2</text><text x="430" y="507.5">P3</text><text x="430" y="510.8">P4</text><text x="430" y="514.1">Tot</text>
<text x="430" y="520.7">P1</text><text x="430" y="524">P2</text><text x="430" y="527.3">P3</text><text x="430" y="530.6">P4</text><text x="430" y="533.9">Tot</text>
<text x="430" y="540.5">P1</text><text x="430" y="543.8">P2</text><text x="430" y="547.1">P3</text><text x="430" y="550.4">P4</text><text x="430" y="553.7">Tot</text>
</g>
<g class="num mid">
<text x="446 463.4 480.5 498.5 517 535.5 553.4 571" y="500.9">00000000</text>
<text x="446 463.4 480.5 498.5 517 535.5 553.4 571" y="504.2">32140214</text>
<text x="446 463.4 480.5 498.5 517 535.5 553.4 571" y="507.5">54213122</text>
<text x="446 463.4 480.5 498.5 517 535.5 553.4 571" y="510.8">75372124</text>
<text x="446 463.4 480.5 498.5 517 535.5 553.4 571" y="514.1">98294458</text>
<text x="446 463.4 480.5 498.5 517 535.5 553.4 571" y="520.7">11001110</text>
<text x="446 463.4 480.5 498.5 517 535.5 553.4 571" y="524">20110200</text>
<text x="446 463.4 480.5 498.5 517 535.5 553.4 571" y="527.3">43221331</text>
<text x="446 463.4 480.5 498.5 517 535.5 553.4 571" y="530.6">65342312</text>
<text x="446 463.4 480.5 498.5 517 535.5 553.4 571" y="533.9">87454343</text>
</g>
<path d="M583,504Q603,505 603,521" fill="none" stroke="#ee8ba1" stroke-width="5"/>
<path d="M595,520H611L603,531Z" fill="#ee8ba1"/>
<rect x="455" y="536" width="170" height="3.5" fill="#c4c4c4"/>
<rect x="455" y="539" width="170" height="93" fill="#fff"/>
<path d="M455,539V632M473,539V632M485,539V632M501,539V632M518,539V632M535.5,539V632M554,539V632M572,539V632M590,539V632M608,539V632M625,539V632M455,539H625M455,632H625M473,551.4H625M473,554.8H625M473,558.2H625M473,561.6H625M473,565H625M473,570.8H625M473,574.2H625M473,577.6H625M473,581H625M473,584.4H625M473,591.8H625M473,595.2H625M473,598.6H625M473,602H625M473,605.4H625M473,612.8H625M473,616.2H625M473,619.6H625M473,623H625M473,626.4H625M473,629.2H625" class="grid"/>
<path d="M455,548H625M455,567.5H625M455,588.5H625M455,609.5H625" stroke="#000" stroke-width=".9"/>
<g class="num mid">
<text x="493" y="545">Opened</text><text x="509.5" y="545">Closed</text><text x="526.7" y="545">N/A</text><text x="544.7" y="545">Outstanding</text><text x="563" y="545">P1</text><text x="581" y="545">P2</text><text x="599" y="545">P3</text><text x="616.5" y="545">P4</text>
</g>
<g class="num">
<text x="457" y="550.6">Hardware</text><text x="457" y="570">Software</text><text x="457" y="591">Application</text><text x="457" y="612">Total</text>
</g>
<g class="num mid">
<text x="479" y="553.8">P1</text><text x="479" y="557.2">P2</text><text x="479" y="560.6">P3</text><text x="479" y="564">P4</text>
<text x="479" y="573.4">P1</text><text x="479" y="576.8">P2</text><text x="479" y="580.2">P3</text><text x="479" y="583.6">P4</text>
<text x="479" y="594.4">P1</text><text x="479" y="597.8">P2</text><text x="479" y="601.2">P3</text><text x="479" y="604.6">P4</text>
<text x="479" y="615.4">P1</text><text x="479" y="618.8">P2</text><text x="479" y="622.2">P3</text><text x="479" y="625.6">P4</text>
<text x="493 509.5 526.7 544.7 563 581 599 616.5" y="553.8">00000000</text>
<text x="493 509.5 526.7 544.7 563 581 599 616.5" y="557.2">12011010</text>
<text x="493 509.5 526.7 544.7 563 581 599 616.5" y="560.6">21120101</text>
<text x="493 509.5 526.7 544.7 563 581 599 616.5" y="564">43361222</text>
<text x="493 509.5 526.7 544.7 563 581 599 616.5" y="573.4">00000000</text>
<text x="493 509.5 526.7 544.7 563 581 599 616.5" y="576.8">10100100</text>
<text x="493 509.5 526.7 544.7 563 581 599 616.5" y="580.2">21010120</text>
<text x="493 509.5 526.7 544.7 563 581 599 616.5" y="583.6">32120121</text>
<text x="493 509.5 526.7 544.7 563 581 599 616.5" y="594.4">00000000</text>
<text x="493 509.5 526.7 544.7 563 581 599 616.5" y="597.8">10101001</text>
<text x="493 509.5 526.7 544.7 563 581 599 616.5" y="601.2">01100110</text>
<text x="493 509.5 526.7 544.7 563 581 599 616.5" y="604.6">11201011</text>
<text x="493 509.5 526.7 544.7 563 581 599 616.5" y="615.4">00000000</text>
<text x="493 509.5 526.7 544.7 563 581 599 616.5" y="618.8">32121211</text>
<text x="493 509.5 526.7 544.7 563 581 599 616.5" y="622.2">43341323</text>
<text x="493 509.5 526.7 544.7 563 581 599 616.5" y="625.6">86683644</text>
</g>
<text x="541" y="639" font-size="5" class="mid b" fill="#222" textLength="124" lengthAdjust="spacingAndGlyphs">Change and Request Snapshot by Period (Daily - London)</text>
</g>

<!-- reference model mapping -->
<g id="mapping">
<rect x="645" y="472" width="312" height="243" class="pb"/>
<text x="809" y="492" font-size="10" class="mid" fill="#222" textLength="115" lengthAdjust="spacingAndGlyphs">Reference Model Mapping</text>
<rect x="674" y="504" width="57" height="192" fill="#cde9f1"/>
<rect x="731" y="504" width="29" height="192" fill="#7dbcad"/>
<rect x="760" y="504" width="29" height="192" fill="#84c2b2"/>
<rect x="789" y="504" width="28" height="192" fill="#f9bc8c"/>
<rect x="817" y="504" width="28" height="192" fill="#7ea8cd"/>
<rect x="845" y="504" width="29" height="192" fill="#8db7db"/>
<rect x="874" y="504" width="58" height="192" fill="#d0eaf3"/>
<path d="M703,504V696M760,504V696M845,504V696" stroke="#fff" stroke-width=".8" stroke-dasharray="2 1.5"/>
<path d="M874,504V696" stroke="#fff" stroke-width=".8"/>
<g class="t3 mid b" fill="#222">
<text x="688.5" y="511">Configuration</text><text x="688.5" y="515">Mgmt</text>
<text x="717" y="511">Change</text><text x="717" y="515">Mgmt</text>
<text x="745.5" y="511">Build</text><text x="745.5" y="515">and Test</text>
<text x="774.5" y="511">Release to</text><text x="774.5" y="515">Production</text>
<text x="803" y="511">Capacity</text><text x="803" y="515">Management</text>
<text x="831" y="511">Operations</text><text x="831" y="515">Management</text>
<text x="859.5" y="511">Incident and</text><text x="859.5" y="515">Service</text><text x="859.5" y="519">Request</text><text x="859.5" y="523">Management</text>
<text x="903" y="511">Service Level</text><text x="903" y="515">Management</text>
</g>
<path d="M726,531H728V556H700V564M726,569H729V591H704M754,593H758V608H755V611M731,617H700V627M726,633H744V648H760M811,648H814V562H817M789,534H783V591H817M869,560H870V615H839V626H847" fill="none" stroke="#111" stroke-width=".8"/>
<path d="M841,533H900V545" fill="none" stroke="#111" stroke-width=".8" marker-end="url(#s)"/>
<rect x="674" y="523" width="52" height="13" class="hd"/><text x="676" y="528.5" class="hw">Discover and</text><text x="676" y="532.5" class="hw">Populate CMDB</text>
<rect x="674" y="536" width="52" height="8" class="it"/><text x="676" y="541.3" class="ik">OV Service Desk</text>
<rect x="674" y="544" width="52" height="8" class="it"/><text x="676" y="549.3" class="ik">Radia Inventory Mgr</text>
<rect x="674" y="564" width="52" height="12" class="hd"/><text x="676" y="569" class="hw">Maintain and</text><text x="676" y="573" class="hw">Control CMDB</text>
<rect x="674" y="576" width="52" height="8" class="it"/><text x="676" y="581.3" class="ik">OV Service Desk</text>
<rect x="704" y="587" width="50" height="13" class="hd"/><text x="706" y="592.5" class="hw">Initiate, Authorize and</text><text x="706" y="596.5" class="hw">Manage Changes</text>
<rect x="704" y="600" width="50" height="8" class="it"/><text x="706" y="605.3" class="ik">OV Service Desk</text>
<rect x="731" y="611" width="52" height="13" class="hd"/><text x="733" y="616.5" class="hw">Build and Test Product</text><text x="733" y="620.5" class="hw">Sets and Scripts</text>
<rect x="731" y="624" width="52" height="8" class="it"/><text x="733" y="629.3" class="ik">Radia Configuration Mgr</text>
<rect x="674" y="627" width="52" height="13" class="hd"/><text x="676" y="632.5" class="hw">Maintain Product Sets</text><text x="676" y="636.5" class="hw">and Scripts in DSL</text>
<rect x="674" y="640" width="52" height="8" class="it"/><text x="676" y="645.3" class="ik">Radia Configuration Mgr</text>
<rect x="674" y="651" width="52" height="13" class="hd"/><text x="676" y="656.5" class="hw">Perform CMDB</text><text x="676" y="660.5" class="hw">Verification</text>
<rect x="674" y="664" width="52" height="8" class="it"/><text x="676" y="669.3" class="ik">OV Service Desk</text>
<rect x="674" y="672" width="52" height="8" class="it"/><text x="676" y="677.3" class="ik">Radia Inventory Mgr</text>
<rect x="760" y="642" width="51" height="13" class="hd"/><text x="762" y="647.5" class="hw">Distribute Changes and</text><text x="762" y="651.5" class="hw">Maintain Policy</text>
<rect x="760" y="655" width="51" height="8" class="it"/><text x="762" y="660.3" class="ik">Radia Configuration Mgr</text>
<rect x="789" y="528" width="52" height="13" class="hd"/><text x="791" y="533.5" class="hw">Capture Capacity</text><text x="791" y="537.5" class="hw">Trends and Reporting</text>
<rect x="789" y="541" width="52" height="8" class="it"/><text x="791" y="546.3" class="ik">OV Performance Insight</text>
<rect x="817" y="553" width="52" height="18" class="hd"/><text x="819" y="558" class="hw">Monitor, Detect and</text><text x="819" y="562" class="hw">Correlate Capacity and</text><text x="819" y="566" class="hw">System Events</text>
<rect x="817" y="571" width="52" height="8" class="it"/><text x="819" y="576.3" class="ik">OV Service Navigator</text>
<rect x="817" y="579" width="52" height="8" class="it"/><text x="819" y="584.3" class="ik">OV Operations</text>
<rect x="817" y="587" width="52" height="8" class="it"/><text x="819" y="592.3" class="ik">Network Node Mgr</text>
<rect x="817" y="595" width="52" height="8" class="it"/><text x="819" y="600.3" class="ik">Radia Analytical Mgr</text>
<rect x="817" y="603" width="52" height="8" class="it"/><text x="819" y="608.3" class="ik">OV Performance Insight</text>
<rect x="875" y="545" width="52" height="13" class="hd"/><text x="877" y="550.5" class="hw">Monitor, Manage and</text><text x="877" y="554.5" class="hw">Report on SLAs</text>
<rect x="875" y="558" width="52" height="8" class="it"/><text x="877" y="563.3" class="ik">OV Service Desk</text>
<rect x="875" y="566" width="52" height="8" class="it"/><text x="877" y="571.3" class="ik">OV Bus Process Insight</text>
<rect x="875" y="574" width="52" height="8" class="it"/><text x="877" y="579.3" class="ik">OV Service Info Portal</text>
<rect x="847" y="620" width="50" height="14" class="hd"/><text x="849" y="626" class="hw">Log, Diagnose and</text><text x="849" y="630" class="hw">Resolve Incidents</text>
<rect x="847" y="634" width="50" height="8" class="it"/><text x="849" y="639.3" class="ik">OV Service Desk</text>
<rect x="847" y="642" width="50" height="8" class="it"/><text x="849" y="647.3" class="ik">OV Service Navigator</text>
<rect x="847" y="650" width="50" height="8" class="it"/><text x="849" y="655.3" class="ik">OV Operations</text>
<rect x="847" y="658" width="50" height="8" class="it"/><text x="849" y="663.3" class="ik">Network Node Mgr</text>
<rect x="847" y="666" width="50" height="8" class="it"/><text x="849" y="671.3" class="ik">Radia Analytical Mgr</text>
</g>
</svg>
